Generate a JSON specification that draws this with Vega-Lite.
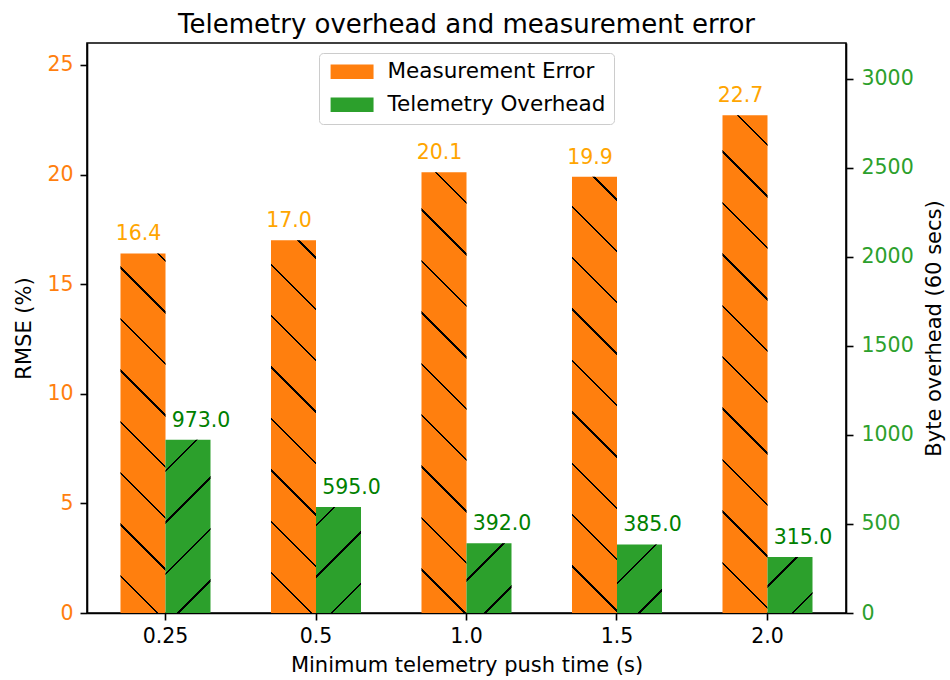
{
  "$schema": "https://vega.github.io/schema/vega-lite/v6.json",
  "autosize": {"type": "none"},
  "padding": {"left": 87, "top": 43, "right": 104, "bottom": 67},
  "width": 759,
  "height": 570,
  "background": "white",
  "title": {
    "text": "Telemetry overhead and measurement error",
    "fontSize": 26,
    "fontWeight": "normal",
    "font": "DejaVu Sans",
    "color": "#000",
    "frame": "group",
    "anchor": "middle",
    "baseline": "alphabetic",
    "offset": 12,
    "dy": 28
  },
  "data": {
    "values": [
      {"push_time": "0.25", "series": "Measurement Error", "value": 16.4},
      {"push_time": "0.5", "series": "Measurement Error", "value": 17.0},
      {"push_time": "1.0", "series": "Measurement Error", "value": 20.1},
      {"push_time": "1.5", "series": "Measurement Error", "value": 19.9},
      {"push_time": "2.0", "series": "Measurement Error", "value": 22.7},
      {"push_time": "0.25", "series": "Telemetry Overhead", "value": 973},
      {"push_time": "0.5", "series": "Telemetry Overhead", "value": 595},
      {"push_time": "1.0", "series": "Telemetry Overhead", "value": 392},
      {"push_time": "1.5", "series": "Telemetry Overhead", "value": 385},
      {"push_time": "2.0", "series": "Telemetry Overhead", "value": 315}
    ]
  },
  "encoding": {
    "x": {
      "field": "push_time",
      "type": "nominal",
      "sort": ["0.25", "0.5", "1.0", "1.5", "2.0"],
      "scale": {"paddingInner": 0, "paddingOuter": 0.0216},
      "axis": {"title": "Minimum telemetry push time (s)", "labelAngle": 0, "labelPadding": 6, "titlePadding": 8}
    },
    "xOffset": {
      "field": "series",
      "type": "nominal",
      "scale": {"domain": ["Measurement Error", "Telemetry Overhead"], "paddingInner": 0, "paddingOuter": 0.672}
    }
  },
  "layer": [
    {
      "transform": [{"filter": "datum.series === 'Measurement Error'"}],
      "encoding": {
        "y": {
          "field": "value",
          "type": "quantitative",
          "scale": {"domain": [0, 26], "nice": false, "zero": true},
          "axis": {"title": "RMSE (%)", "orient": "left", "values": [0, 5, 10, 15, 20, 25], "labelColor": "#ff7f0e", "labelPadding": 7, "titlePadding": 12}
        }
      },
      "layer": [
        {
          "mark": {"type": "bar"},
          "encoding": {
            "color": {
              "field": "series",
              "type": "nominal",
              "scale": {"domain": ["Measurement Error", "Telemetry Overhead"], "range": ["#ff7f0e", "#2ca02c"]},
              "legend": {"title": null, "orient": "none", "legendX": 232, "legendY": 10}
            }
          }
        },
        {
          "mark": {
            "type": "bar",
            "fill": {"expr": "{gradient:'linear',x1:-(14.4-3.3*indexof(['0.25','0.5','1.0','1.5','2.0'],datum.push_time))/45,y1:1,x2:-(14.4-3.3*indexof(['0.25','0.5','1.0','1.5','2.0'],datum.push_time))/45+27756/(2025+pow(datum.value*21.9231,2)),y2:1-616.8*datum.value*21.9231/(2025+pow(datum.value*21.9231,2)),stops:[{offset:0,color:'transparent'},{offset:0.0813,color:'transparent'},{offset:0.0813,color:'#000'},{offset:0.0853,color:'#000'},{offset:0.0853,color:'transparent'},{offset:0.1647,color:'transparent'},{offset:0.1647,color:'#000'},{offset:0.1687,color:'#000'},{offset:0.1687,color:'transparent'},{offset:0.248,color:'transparent'},{offset:0.248,color:'#000'},{offset:0.252,color:'#000'},{offset:0.252,color:'transparent'},{offset:0.3313,color:'transparent'},{offset:0.3313,color:'#000'},{offset:0.3353,color:'#000'},{offset:0.3353,color:'transparent'},{offset:0.4147,color:'transparent'},{offset:0.4147,color:'#000'},{offset:0.4187,color:'#000'},{offset:0.4187,color:'transparent'},{offset:0.498,color:'transparent'},{offset:0.498,color:'#000'},{offset:0.502,color:'#000'},{offset:0.502,color:'transparent'},{offset:0.5813,color:'transparent'},{offset:0.5813,color:'#000'},{offset:0.5853,color:'#000'},{offset:0.5853,color:'transparent'},{offset:0.6647,color:'transparent'},{offset:0.6647,color:'#000'},{offset:0.6687,color:'#000'},{offset:0.6687,color:'transparent'},{offset:0.748,color:'transparent'},{offset:0.748,color:'#000'},{offset:0.752,color:'#000'},{offset:0.752,color:'transparent'},{offset:0.8313,color:'transparent'},{offset:0.8313,color:'#000'},{offset:0.8353,color:'#000'},{offset:0.8353,color:'transparent'},{offset:0.9147,color:'transparent'},{offset:0.9147,color:'#000'},{offset:0.9187,color:'#000'},{offset:0.9187,color:'transparent'},{offset:1,color:'transparent'}]}"}
          }
        },
        {
          "mark": {"type": "text", "fontSize": 20.5, "font": "DejaVu Sans", "color": "#FFA500", "baseline": "alphabetic", "align": "center", "dy": -13, "dx": -4.5},
          "encoding": {"text": {"field": "value", "type": "quantitative", "format": ".1f"}}
        }
      ]
    },
    {
      "transform": [{"filter": "datum.series === 'Telemetry Overhead'"}],
      "encoding": {
        "y": {
          "field": "value",
          "type": "quantitative",
          "scale": {"domain": [0, 3200], "nice": false, "zero": true},
          "axis": {"title": "Byte overhead (60 secs)", "orient": "right", "format": "d", "values": [0, 500, 1000, 1500, 2000, 2500, 3000], "labelColor": "#2ca02c", "labelPadding": 8, "titlePadding": 10, "titleAngle": 270, "titleBaseline": "top"}
        }
      },
      "layer": [
        {
          "mark": {"type": "bar"},
          "encoding": {
            "color": {
              "field": "series",
              "type": "nominal",
              "scale": {"domain": ["Measurement Error", "Telemetry Overhead"], "range": ["#ff7f0e", "#2ca02c"]},
              "legend": {"title": null, "orient": "none", "legendX": 232, "legendY": 10}
            }
          }
        },
        {
          "mark": {
            "type": "bar",
            "fill": {"expr": "{gradient:'linear',x1:1+(18.7+3.2*indexof(['0.25','0.5','1.0','1.5','2.0'],datum.push_time))/45,y1:1,x2:1+(18.7+3.2*indexof(['0.25','0.5','1.0','1.5','2.0'],datum.push_time))/45-27756/(2025+pow(datum.value*0.178125,2)),y2:1-616.8*datum.value*0.178125/(2025+pow(datum.value*0.178125,2)),stops:[{offset:0,color:'transparent'},{offset:0.0813,color:'transparent'},{offset:0.0813,color:'#000'},{offset:0.0853,color:'#000'},{offset:0.0853,color:'transparent'},{offset:0.1647,color:'transparent'},{offset:0.1647,color:'#000'},{offset:0.1687,color:'#000'},{offset:0.1687,color:'transparent'},{offset:0.248,color:'transparent'},{offset:0.248,color:'#000'},{offset:0.252,color:'#000'},{offset:0.252,color:'transparent'},{offset:0.3313,color:'transparent'},{offset:0.3313,color:'#000'},{offset:0.3353,color:'#000'},{offset:0.3353,color:'transparent'},{offset:0.4147,color:'transparent'},{offset:0.4147,color:'#000'},{offset:0.4187,color:'#000'},{offset:0.4187,color:'transparent'},{offset:1,color:'transparent'}]}"}
          }
        },
        {
          "mark": {"type": "text", "fontSize": 20.5, "font": "DejaVu Sans", "color": "#008000", "baseline": "alphabetic", "align": "center", "dy": -13, "dx": 13},
          "encoding": {"text": {"field": "value", "type": "quantitative", "format": ".1f"}}
        }
      ]
    }
  ],
  "resolve": {"scale": {"y": "independent"}, "axis": {"y": "independent"}},
  "config": {
    "font": "DejaVu Sans",
    "view": {"stroke": "#000", "strokeWidth": 1.6},
    "axis": {
      "grid": false,
      "domainColor": "#000",
      "domainWidth": 1.6,
      "tickColor": "#000",
      "tickWidth": 1.6,
      "tickSize": 7,
      "labelFont": "DejaVu Sans",
      "labelFontSize": 20.5,
      "labelColor": "#000",
      "titleFont": "DejaVu Sans",
      "titleFontSize": 21,
      "titleFontWeight": "normal",
      "titleColor": "#000"
    },
    "legend": {
      "symbolType": "M-1,-1H5V1H-1Z",
      "symbolSize": 205,
      "symbolStrokeWidth": 0,
      "labelFont": "DejaVu Sans",
      "labelFontSize": 21.5,
      "labelColor": "#000",
      "labelLimit": 400,
      "labelOffset": 39,
      "rowPadding": 10,
      "padding": 8,
      "strokeColor": "#cccccc",
      "fillColor": "rgba(255,255,255,0.8)",
      "cornerRadius": 4
    }
  }
}
